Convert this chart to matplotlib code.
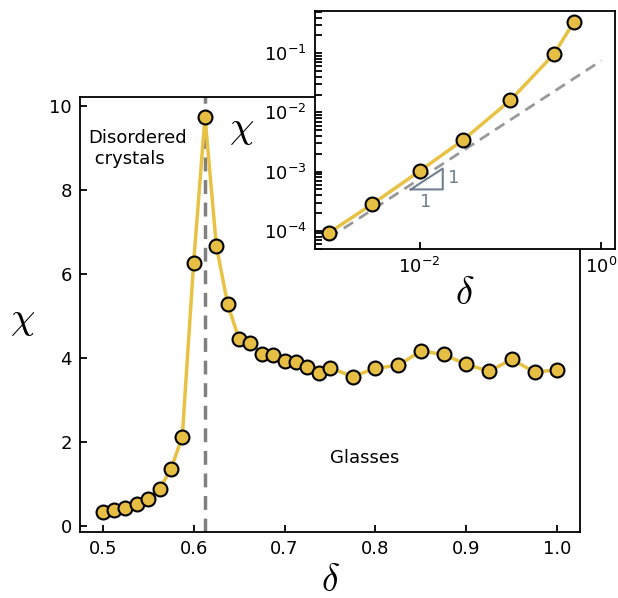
import matplotlib
matplotlib.use('Agg')
import matplotlib.pyplot as plt
from matplotlib.ticker import LogLocator, NullLocator, FixedLocator

# ---- data (main panel) ----
delta = [0.5, 0.5125, 0.525, 0.5375, 0.55, 0.5625, 0.575, 0.5875, 0.6, 0.6125,
         0.625, 0.6375, 0.65, 0.6625, 0.675, 0.6875, 0.7, 0.7125, 0.725, 0.7375,
         0.75, 0.775, 0.8, 0.825, 0.85, 0.875, 0.9, 0.925, 0.95, 0.975, 1.0]
chi = [0.33, 0.38, 0.44, 0.52, 0.65, 0.89, 1.35, 2.13, 6.27, 9.75,
       6.67, 5.28, 4.45, 4.37, 4.10, 4.07, 3.93, 3.90, 3.79, 3.64,
       3.77, 3.56, 3.76, 3.83, 4.17, 4.09, 3.85, 3.69, 3.97, 3.67, 3.72]
delta_c = 0.6125

# ---- data (inset) ----
ddelta = [1e-3, 3e-3, 1e-2, 3e-2, 1e-1, 3e-1, 5e-1]
chi_small = [9.2e-5, 2.8e-4, 1.02e-3, 3.4e-3, 1.61e-2, 9.6e-2, 3.39e-1]
guide_x = [1e-3, 1.0]
guide_y = [7.5e-5, 7.5e-2]
tri_x = [0.008, 0.018, 0.018, 0.008]
tri_y = [5.0e-4, 5.0e-4, 1.125e-3, 5.0e-4]

LINE_C = '#E8C244'
FACE_C = '#E6BE44'
TICK_FS = 13

fig = plt.figure(figsize=(6.18, 5.98), dpi=100)
W, H = 618, 598

def px_axes(x0, y0, x1, y1):
    return fig.add_axes([x0 / W, 1 - y1 / H, (x1 - x0) / W, (y1 - y0) / H])

# ---------------- main axes ----------------
ax = px_axes(80, 97, 580, 532)
ax.plot(delta, chi, '-', color=LINE_C, lw=2.5, zorder=2)
ax.plot(delta, chi, 'o', ms=10, mfc=FACE_C, mec='black', mew=1.5, zorder=3)
ax.axvline(delta_c, color='#808080', ls='--', lw=2.5, dashes=(4, 2.5), zorder=1)

for s in ax.spines.values():
    s.set_linewidth(1.3)
ax.tick_params(direction='in', length=5, width=1.3, labelsize=TICK_FS, pad=6)

ax.text(0.4845, 9.45, 'Disordered\n crystals', fontsize=13, ha='left', va='top')
ax.text(0.75, 1.5, 'Glasses', fontsize=13, ha='left', va='baseline')

ax.set_xlabel(r'$\delta$', fontsize=27, math_fontfamily='cm')
ax.xaxis.set_label_coords(0.5, -0.112)
ax.xaxis.label.set_va('center')
ax.set_ylabel(r'$\chi$', fontsize=28, math_fontfamily='cm', rotation=0,
              ha='center', va='center')
ax.yaxis.set_label_coords(-0.114, 0.49)

# ---------------- inset ----------------
ins = px_axes(315, 11, 615, 249)
ins.set_facecolor('white')
ins.set_xscale('log')
ins.set_yscale('log')
ins.plot(guide_x, guide_y, '--', color='#999999', lw=2, dashes=(4, 2.5), zorder=1)
ins.plot(ddelta, chi_small, '-', color=LINE_C, lw=2.5, zorder=2)
ins.plot(ddelta, chi_small, 'o', ms=10, mfc=FACE_C, mec='black', mew=1.5, zorder=3)
ins.plot(tri_x, tri_y, '-', color='#708090', lw=1.5, zorder=2)
ins.text(0.0236, 7.7e-4, '1', color='#708090', fontsize=13, ha='center', va='center')
ins.text(0.0116, 3.06e-4, '1', color='#708090', fontsize=13, ha='center', va='center')

ins.xaxis.set_major_locator(FixedLocator([1e-2, 1e0]))
ins.xaxis.set_minor_locator(NullLocator())
ins.yaxis.set_major_locator(LogLocator(base=10, numticks=10))
ins.yaxis.set_minor_locator(LogLocator(base=10, subs=[2, 3, 4, 5, 6, 7, 8, 9], numticks=20))
for s in ins.spines.values():
    s.set_linewidth(1.3)
ins.tick_params(which='both', direction='in', length=5, width=1.3,
                labelsize=TICK_FS, pad=6)
ins.tick_params(which='minor', labelleft=False)

ins.set_xlabel(r'$\delta$', fontsize=28, math_fontfamily='cm')
ins.xaxis.set_label_coords(0.5, -0.185)
ins.xaxis.label.set_va('center')
ins.set_ylabel(r'$\chi$', fontsize=28, math_fontfamily='cm', rotation=0,
               ha='center', va='center')
ins.yaxis.set_label_coords(-0.243, 0.508)

fig.savefig('out.png', dpi=100)
